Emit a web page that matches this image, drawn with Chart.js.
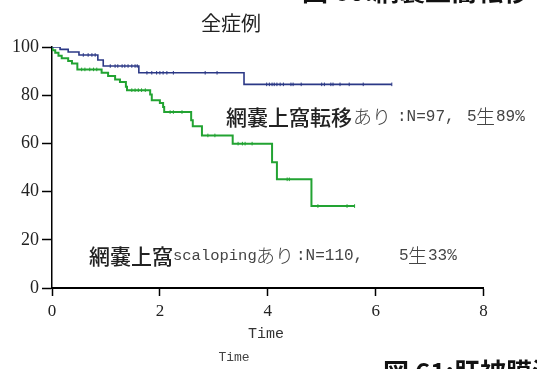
<!DOCTYPE html>
<html>
<head>
<meta charset="utf-8">
<script src="https://cdn.jsdelivr.net/npm/chart.js@4.4.0/dist/chart.umd.min.js"></script>
<style>
  html, body { margin: 0; padding: 0; background: #fff; }
  #wrap { width: 537px; height: 369px; }
</style>
</head>
<body>
<div id="wrap"><canvas id="km" width="537" height="369"></canvas></div>
<script>
// step times (years) and survival (%)
const blueTimes = [0, 0.15, 0.30, 0.50, 0.85, 0.95, 1.61, 3.56, 6.30];
const blueSurv = [100, 99.0, 97.9, 96.7, 94.6, 92.1, 89.3, 84.5, 84.5];
const blueCensor = [0.58, 0.67, 0.74, 0.80, 1.08, 1.17, 1.22, 1.30, 1.35, 1.41, 1.48, 1.54, 1.58,
  1.76, 1.85, 1.94, 2.00, 2.06, 2.13, 2.25, 2.84, 3.06, 3.98, 4.03, 4.08, 4.12, 4.17, 4.23, 4.29,
  4.43, 4.47, 4.62, 5.00, 5.05, 5.17, 5.21, 5.34, 5.51, 5.77, 6.30];

const greenTimes = [0, 0.01, 0.06, 0.12, 0.18, 0.30, 0.37, 0.47, 0.92, 1.04, 1.17, 1.26, 1.37, 1.39,
  1.82, 1.85, 2.00, 2.06, 2.08, 2.58, 2.61, 2.78, 3.35, 4.08, 4.17, 4.81, 5.61];
const greenSurv = [100, 98.7, 97.6, 96.4, 95.3, 94.2, 93.2, 90.7, 89.3, 88.0, 86.5, 85.5, 83.5, 82.1,
  80.3, 77.9, 76.8, 75.1, 73.0, 69.6, 67.1, 63.3, 59.9, 52.2, 45.1, 34.0, 34.0];
const greenCensor = [0.55, 0.61, 0.70, 0.77, 0.83, 1.48, 1.54, 1.60, 1.66, 1.73, 2.19, 2.25, 2.41,
  2.89, 3.02, 3.45, 3.53, 3.58, 3.71, 4.36, 4.40, 4.93, 5.47, 5.61];

const xTicks = [0, 2, 4, 6, 8];
const yTicks = [0, 20, 40, 60, 80, 100];

function levelAt(times, surv, t) {
  let v = surv[0];
  for (let i = 0; i < times.length; i++) if (times[i] <= t) v = surv[i];
  return v;
}

function kmPoints(times, surv, censor) {
  const pts = times.map((t, i) => ({ x: t, y: surv[i], c: false }));
  censor.forEach(t => pts.push({ x: t, y: levelAt(times, surv, t), c: true }));
  return pts.sort((a, b) => a.x - b.x || (a.c - b.c));
}

const blue = '#2b3886';
const green = '#22a332';

const textPlugin = {
  id: 'texts',
  afterDraw(chart) {
    const c = chart.ctx;
    c.save();
    c.textBaseline = 'middle';
    const runs = (list, y) => list.forEach(r => {
      c.font = r.f; c.fillStyle = r.col; c.textAlign = 'left';
      c.fillText(r.t, r.x, y);
    });
    const cjkB = '500 21px "Noto Sans CJK JP"';
    const cjkL = '300 19px "Noto Sans CJK JP"';
    const mono = '16px "Liberation Mono"';

    // title
    c.font = '20px "Noto Sans CJK JP"'; c.fillStyle = '#222'; c.textAlign = 'center';
    c.fillText('全症例', 231, 23);

    runs([
      { t: '網嚢上窩転移', x: 226, f: cjkB, col: '#222' },
      { t: 'あり', x: 353, f: cjkL, col: '#444' },
      { t: ':N=97,', x: 397, f: mono, col: '#444' },
      { t: '5', x: 467, f: mono, col: '#444' },
      { t: '生', x: 476, f: cjkL, col: '#444' },
      { t: '89%', x: 496, f: mono, col: '#444' }
    ], 117);

    runs([
      { t: '網嚢上窩', x: 89, f: cjkB, col: '#222' },
      { t: 'scaloping', x: 173, f: '15.5px "Liberation Mono"', col: '#444' },
      { t: 'あり', x: 256, f: cjkL, col: '#444' },
      { t: ':N=110,', x: 296, f: mono, col: '#444' },
      { t: '5', x: 399, f: mono, col: '#444' },
      { t: '生', x: 408, f: cjkL, col: '#444' },
      { t: '33%', x: 428, f: mono, col: '#444' }
    ], 256);

    // axis title and stray caption text
    c.textAlign = 'center';
    c.font = '15px "Liberation Mono"'; c.fillStyle = '#333';
    c.fillText('Time', 266, 334);
    c.font = '13px "Liberation Mono"'; c.fillStyle = '#444';
    c.fillText('Time', 234, 358);

    // headings cut off at the edges
    c.textAlign = 'left'; c.textBaseline = 'ideographic';
    c.font = 'bold 26px "Noto Sans CJK JP"'; c.fillStyle = '#111';
    c.fillText('図 60:網嚢上窩転移', 302, 4);
    c.fillText('図 61:肝被膜浸潤', 383, 385);
    c.restore();
  }
};

new Chart(document.getElementById('km'), {
  type: 'line',
  data: {
    datasets: [
      {
        data: kmPoints(blueTimes, blueSurv, blueCensor),
        borderColor: blue, borderWidth: 1.6, stepped: true, fill: false,
        pointStyle: 'line', rotation: 90, pointBorderColor: blue, pointBorderWidth: 1,
        pointRadius: ctx => (ctx.raw && ctx.raw.c ? 1.8 : 0), pointHoverRadius: 0
      },
      {
        data: kmPoints(greenTimes, greenSurv, greenCensor),
        borderColor: green, borderWidth: 2, stepped: true, fill: false,
        pointStyle: 'line', rotation: 90, pointBorderColor: green, pointBorderWidth: 1,
        pointRadius: ctx => (ctx.raw && ctx.raw.c ? 1.8 : 0), pointHoverRadius: 0
      }
    ]
  },
  options: {
    responsive: false,
    animation: false,
    events: [],
    layout: { padding: { top: 47, right: 53.5, left: 0, bottom: 0 } },
    plugins: { legend: { display: false }, tooltip: { enabled: false } },
    scales: {
      x: {
        type: 'linear', min: 0, max: 8,
        afterBuildTicks: s => { s.ticks = xTicks.map(v => ({ value: v })); },
        afterFit: s => { s.height = 81; },
        grid: { drawOnChartArea: false, drawTicks: true, tickLength: 8, tickColor: '#000', tickWidth: 1.5 },
        border: { color: '#000', width: 2 },
        ticks: { color: '#222', padding: 5, maxRotation: 0, font: { family: 'Liberation Serif', size: 17 } }
      },
      y: {
        min: 0, max: 100,
        afterBuildTicks: s => { s.ticks = yTicks.map(v => ({ value: v })); },
        afterFit: s => { s.width = 52; },
        grid: { drawOnChartArea: false, drawTicks: true, tickLength: 10, tickColor: '#000', tickWidth: 1.5 },
        border: { color: '#000', width: 1.5 },
        ticks: { color: '#222', padding: 3, font: { family: 'Liberation Serif', size: 18 } }
      }
    }
  },
  plugins: [textPlugin]
});
</script>
</body>
</html>
